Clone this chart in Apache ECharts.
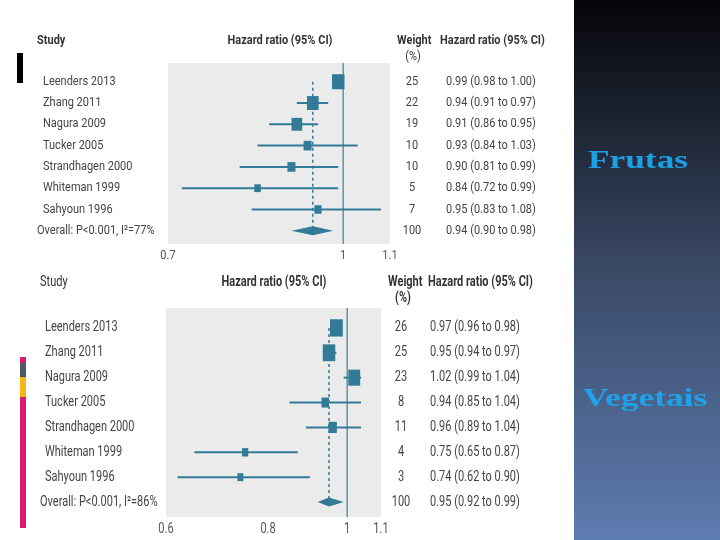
<!DOCTYPE html>
<html>
<head>
<meta charset="utf-8">
<script src="https://cdn.jsdelivr.net/npm/echarts@6/dist/echarts.min.js"></script>
<style>html,body{margin:0;padding:0;background:#fff}#c{width:720px;height:540px}</style>
</head>
<body>
<div id="c"></div>
<script>
// ---- data ----
var studies = ["Leenders 2013","Zhang 2011","Nagura 2009","Tucker 2005","Strandhagen 2000","Whiteman 1999","Sahyoun 1996"];

var fruitWeight = [25,22,19,10,10,5,7];
var fruitHR     = [0.99,0.94,0.91,0.93,0.90,0.84,0.95];
var fruitLo     = [0.98,0.91,0.86,0.84,0.81,0.72,0.83];
var fruitHi     = [1.00,0.97,0.95,1.03,0.99,0.99,1.08];
var fruitOverall = [0.94,0.90,0.98,100];   // HR, lo, hi, weight
var fruitOverallLabel = "Overall: P<0.001, I\u00B2=77%";
var fruitTicks = [0.7,1,1.1];

var vegWeight = [26,25,23,8,11,4,3];
var vegHR     = [0.97,0.95,1.02,0.94,0.96,0.75,0.74];
var vegLo     = [0.96,0.94,0.99,0.85,0.89,0.65,0.62];
var vegHi     = [0.98,0.97,1.04,1.04,1.04,0.87,0.90];
var vegOverall = [0.95,0.92,0.99,100];
var vegOverallLabel = "Overall: P<0.001, I\u00B2=86%";
var vegTicks = [0.6,0.8,1,1.1];

var panelTitles = ["Frutas","Vegetais"];
var headerStudy = "Study", headerHR = "Hazard ratio (95% CI)", headerW = "Weight", headerPct = "(%)";

// ---- styles ----
var TEAL = '#327a96';
var TXT = '#444';
var FONT = 'Roboto, "Open Sans", sans-serif';

function rowRenderer(cfg) {
  return function (params, api) {
    var hr = api.value(0), i = api.value(1), lo = api.value(2), hi = api.value(3), w = api.value(4);
    var c = api.coord([hr, i]), pl = api.coord([lo, i]), ph = api.coord([hi, i]);
    var sw = 5 + 0.3 * w, sh = sw * cfg.sy;
    var t = function (txt, x, align) {
      return {type: 'text', x: x, y: c[1], scaleY: cfg.ty, style: {text: txt, fill: TXT, fontSize: 11, fontFamily: FONT, align: align, verticalAlign: 'middle'}};
    };
    return {type: 'group', children: [
      {type: 'line', shape: {x1: pl[0], y1: c[1], x2: ph[0], y2: c[1]}, style: {stroke: TEAL, lineWidth: 2}},
      {type: 'rect', shape: {x: c[0] - sw / 2, y: c[1] - sh / 2, width: sw, height: sh}, style: {fill: TEAL}},
      t(studies[params.dataIndex], cfg.nameX, 'left'),
      t(String(w), cfg.wX, 'center'),
      t(hr.toFixed(2) + ' (' + lo.toFixed(2) + ' to ' + hi.toFixed(2) + ')', cfg.hrX, 'left')
    ]};
  };
}
function overallRenderer(cfg) {
  return function (params, api) {
    var hr = api.value(0), i = api.value(1), lo = api.value(2), hi = api.value(3), w = api.value(4);
    var c = api.coord([hr, i]), pl = api.coord([lo, i]), ph = api.coord([hi, i]);
    var h = 4.5;
    var t = function (txt, x, align) {
      return {type: 'text', x: x, y: c[1], scaleY: cfg.ty, style: {text: txt, fill: TXT, fontSize: 11, fontFamily: FONT, align: align, verticalAlign: 'middle'}};
    };
    return {type: 'group', children: [
      {type: 'polygon', shape: {points: [[pl[0], c[1]], [c[0], c[1] - h], [ph[0], c[1]], [c[0], c[1] + h]]}, style: {fill: TEAL}},
      t(cfg.label, cfg.overallX, 'left'),
      t(String(w), cfg.wX, 'center'),
      t(hr.toFixed(2) + ' (' + lo.toFixed(2) + ' to ' + hi.toFixed(2) + ')', cfg.hrX, 'left')
    ]};
  };
}
function refRenderer(params, api) {
  var cs = params.coordSys;
  var p = api.coord([api.value(0), 0]);
  return {type: 'line', shape: {x1: p[0], y1: cs.y, x2: p[0], y2: cs.y + cs.height}, style: {stroke: '#4a87a0', lineWidth: 1.3}};
}
function dashRenderer(params, api) {
  var a = api.coord([api.value(0), 0]), b = api.coord([api.value(0), api.value(1)]);
  return {type: 'line', shape: {x1: a[0], y1: a[1], x2: b[0], y2: b[1]}, style: {stroke: TEAL, lineWidth: 1.5, lineDash: [3, 3]}};
}
function tickRenderer(cfg) {
  return function (params, api) {
    var cs = params.coordSys;
    var p = api.coord([api.value(0), 0]);
    return {type: 'text', x: p[0], y: cs.y + cs.height + 12, scaleY: cfg.ty, style: {text: String(api.value(0)), fill: '#555', fontSize: 11, fontFamily: FONT, align: 'center', verticalAlign: 'middle'}};
  };
}

function buildSeries(idx, W, HR, LO, HI, OV, ticks, cfg) {
  var rows = HR.map(function (v, i) { return [v, i, LO[i], HI[i], W[i]]; });
  var nRows = HR.length;
  var common = {type: 'custom', xAxisIndex: idx, yAxisIndex: idx, silent: true, clip: false};
  return [
    Object.assign({}, common, {renderItem: dashRenderer, data: [[OV[0], nRows]]}),
    Object.assign({}, common, {renderItem: refRenderer, data: [[1, 0]]}),
    Object.assign({}, common, {renderItem: rowRenderer(cfg), data: rows}),
    Object.assign({}, common, {renderItem: overallRenderer(cfg), data: [[OV[0], nRows, OV[1], OV[2], OV[3]]]}),
    Object.assign({}, common, {renderItem: tickRenderer(cfg), data: ticks.map(function (v) { return [v, 0]; })})
  ];
}

var cfgTop = {sy: 1.2, ty: 1.15, nameX: 43, overallX: 37, wX: 412, hrX: 446, label: fruitOverallLabel};
var cfgBot = {sy: 1.35, ty: 1.3, nameX: 45, overallX: 40, wX: 401, hrX: 430, label: vegOverallLabel};

function hdr(txt, x, y, align, bold, sy) {
  return {type: 'text', x: x, y: y, scaleY: sy, style: {text: txt, fill: '#333', fontSize: 11, fontWeight: bold ? 'bold' : 'normal', fontFamily: FONT, align: align, verticalAlign: 'middle'}};
}

var chart = echarts.init(document.getElementById('c'), null, {renderer: 'canvas'});
chart.setOption({
  animation: false,
  backgroundColor: '#fff',
  grid: [
    {left: 168, right: 330, top: 63, height: 181, show: true, backgroundColor: '#ebebeb', borderWidth: 0},
    {left: 166, right: 339, top: 308, height: 209, show: true, backgroundColor: '#ebebeb', borderWidth: 0}
  ],
  xAxis: [
    {type: 'log', logBase: 10, gridIndex: 0, min: 0.7, max: 1.1, axisLine: {show: false}, axisTick: {show: false}, axisLabel: {show: false}, splitLine: {show: false}},
    {type: 'log', logBase: 10, gridIndex: 1, min: 0.6, max: 1.1, axisLine: {show: false}, axisTick: {show: false}, axisLabel: {show: false}, splitLine: {show: false}}
  ],
  yAxis: [
    {type: 'value', gridIndex: 0, inverse: true, min: -0.88, max: 7.62, show: false},
    {type: 'value', gridIndex: 1, inverse: true, min: -0.8, max: 7.6, show: false}
  ],
  graphic: [
    {type: 'rect', left: 574, top: 0, shape: {width: 146, height: 540}, style: {fill: {type: 'linear', x: 0, y: 0, x2: 0, y2: 1, colorStops: [{offset: 0, color: '#040507'}, {offset: 0.5, color: '#3a4966'}, {offset: 1, color: '#5d7cb0'}]}}},
    {type: 'text', x: 638, y: 161, scaleX: 1.36, style: {text: panelTitles[0], fill: '#1ca0e4', fontSize: 26, fontWeight: 'bold', fontFamily: '"Liberation Serif", "DejaVu Serif", serif', align: 'center', verticalAlign: 'middle'}},
    {type: 'text', x: 645, y: 399, scaleX: 1.36, style: {text: panelTitles[1], fill: '#1ea2ea', fontSize: 26, fontWeight: 'bold', fontFamily: '"Liberation Serif", "DejaVu Serif", serif', align: 'center', verticalAlign: 'middle'}},
    {type: 'rect', left: 17, top: 53, shape: {width: 6, height: 30}, style: {fill: '#000'}},
    {type: 'rect', left: 20, top: 357, shape: {width: 6, height: 6}, style: {fill: '#d81b72'}},
    {type: 'rect', left: 20, top: 363, shape: {width: 6, height: 14}, style: {fill: '#4b5a64'}},
    {type: 'rect', left: 20, top: 377, shape: {width: 6, height: 20}, style: {fill: '#f6b619'}},
    {type: 'rect', left: 20, top: 397, shape: {width: 6, height: 131}, style: {fill: '#d81b72'}},
    hdr(headerStudy, 37, 41, 'left', true, 1.15),
    hdr(headerHR, 280, 41, 'center', true, 1.15),
    hdr(headerW, 397, 41, 'left', true, 1.15),
    hdr(headerPct, 413, 57, 'center', false, 1.15),
    hdr(headerHR, 440, 41, 'left', true, 1.15),
    hdr(headerStudy, 40, 282, 'left', false, 1.3),
    hdr(headerHR, 274, 282, 'center', true, 1.3),
    hdr(headerW, 388, 282, 'left', true, 1.3),
    hdr(headerPct, 403, 298, 'center', true, 1.3),
    hdr(headerHR, 428, 282, 'left', true, 1.3)
  ],
  series: [].concat(
    buildSeries(0, fruitWeight, fruitHR, fruitLo, fruitHi, fruitOverall, fruitTicks, cfgTop),
    buildSeries(1, vegWeight, vegHR, vegLo, vegHi, vegOverall, vegTicks, cfgBot)
  )
});
</script>
</body>
</html>
